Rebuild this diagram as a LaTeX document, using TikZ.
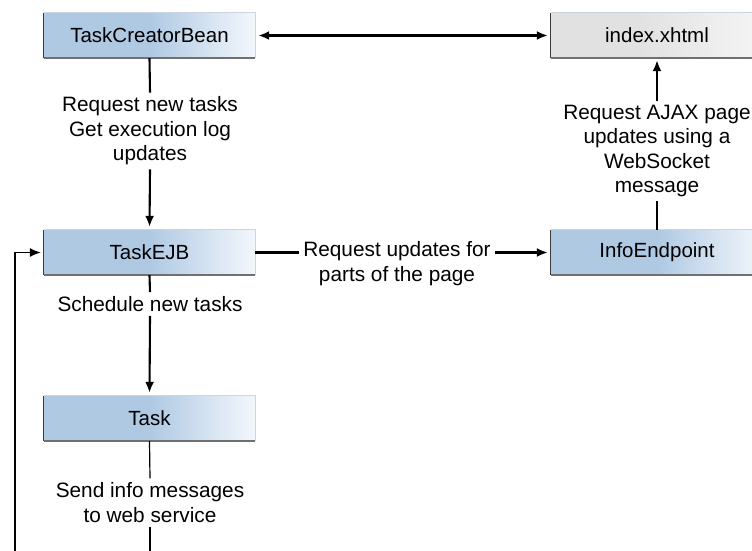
\documentclass[tikz,border=0pt]{standalone}
\usepackage{fontspec}
\setmainfont{Liberation Sans}
\usetikzlibrary{arrows.meta,calc}
\definecolor{boxblue}{HTML}{AFC9E3}
\definecolor{boxlight}{HTML}{F3F7FC}
\definecolor{boxgray}{HTML}{E1E1E1}
\definecolor{boxgraylight}{HTML}{F5F5F5}
\definecolor{edgedark}{HTML}{3A3A3A}
\definecolor{edgebot}{HTML}{707070}
\definecolor{edgelite}{HTML}{CCD5DF}
\pgfdeclarehorizontalshading{blueshade}{100bp}{color(0bp)=(boxblue); color(25bp)=(boxblue); color(50bp)=(boxblue); color(75bp)=(boxlight); color(100bp)=(boxlight)}
\pgfdeclarehorizontalshading{grayshade}{100bp}{color(0bp)=(boxgray); color(25bp)=(boxgray); color(45bp)=(boxgray); color(75bp)=(boxgraylight); color(100bp)=(boxgraylight)}
\tikzset{
  comp/.style={shading=blueshade, minimum width=211pt, minimum height=45pt, inner sep=0pt, font=\fontsize{20.5}{24.5}\selectfont},
  compgray/.style={comp, shading=grayshade},
  lbl/.style={align=center, inner sep=4pt, font=\fontsize{20.8}{24.5}\selectfont},
  conn/.style={line width=2.1pt},
  thin conn/.style={line width=1.2pt},
  arr/.style={-{Latex[length=11pt,width=9pt]}},
}
\begin{document}
\begin{tikzpicture}[x=1pt,y=-1pt]
\useasboundingbox (0,0) rectangle (752,550);
\begin{scope}
\clip (0,0) rectangle (752,550);
\node[comp] (tcb) at (149.5,35.5) {TaskCreatorBean};
\node[compgray, minimum width=212pt] (idx) at (657,35.5) {index.xhtml};
\node[comp] (ejb) at (149.5,252.5) {TaskEJB};
\node[comp, minimum width=212pt] (info) at (657,252.5) {InfoEndpoint};
\node[comp] (task) at (149.5,418.5) {Task};
\foreach \n in {tcb,ejb,task,idx,info} {
  \draw[edgelite, line width=0.8pt] (\n.north west) -- (\n.north east) -- (\n.south east);
  \draw[edgebot, line width=1.6pt] (\n.south west) -- (\n.south east);
  \draw[edgedark, line width=1pt] (\n.north west) -- (\n.south west);
}

\node[lbl] (lab1) at (150,131) {Request new tasks\\Get execution log\\updates};
\node[lbl] (lab2) at (657,151) {Request AJAX page\\updates using a\\WebSocket\\message};
\node[lbl] (lab3) at (397,263.5) {Request updates for\\parts of the page};
\node[lbl] (lab4) at (150,304) {Schedule new tasks};
\node[lbl] (lab5) at (150,502.5) {Send info messages\\to web service};
\coordinate (bot) at (150,552);
\coordinate (leftbot) at (15,552);

\draw[conn, {Latex[length=11pt,width=9pt]}-{Latex[length=11pt,width=9pt]}, shorten <=3pt, shorten >=3pt] (tcb.east) -- (idx.west);
\draw[conn] (tcb.south) -- (lab1.north);
\draw[conn, arr, shorten >=3pt] (lab1.south) -- (ejb.north);
\draw[conn] (ejb.east) -- (ejb.east -| lab3.west);
\draw[conn, arr, shorten >=3pt] (lab3.east |- info.west) -- (info.west);
\draw[conn] (info.north) -- (lab2.south);
\draw[conn, arr, shorten >=2pt] (lab2.north) -- (idx.south);
\draw[conn] (ejb.south) -- (lab4.north);
\draw[conn, arr, shorten >=3pt] (lab4.south) -- (task.north);
\draw[thin conn] (task.south) -- (lab5.north);
\draw[thin conn] (lab5.south) -- (bot);
\draw[thin conn, arr, shorten >=3pt] (leftbot) |- (ejb.west);
\end{scope}
\end{tikzpicture}
\end{document}
